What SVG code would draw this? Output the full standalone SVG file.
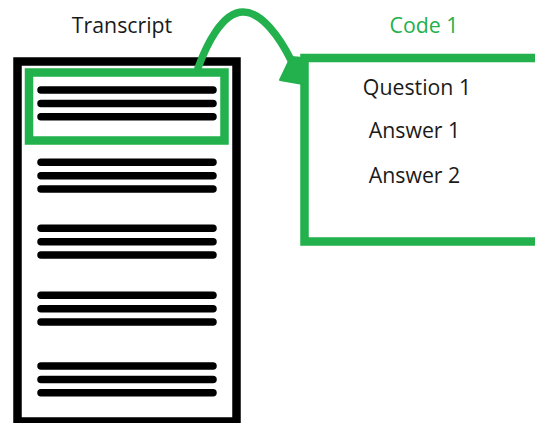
<svg xmlns="http://www.w3.org/2000/svg" width="535" height="423" viewBox="0 0 535 423">
  <style>
    .lbl { font-family: "Open Sans", "Liberation Sans", sans-serif; font-size: 21.3px; fill: #1a1a1a; text-anchor: middle; }
    .green-lbl { fill: #22b14c; }
    .doc { fill: none; stroke: #000; stroke-width: 8.5; }
    .hl { fill: none; stroke: #22b14c; stroke-width: 8.5; }
    .row { stroke: #000; stroke-width: 7.5; stroke-linecap: round; }
  </style>
  <defs>
    <g id="rows">
      <line class="row" x1="41" y1="0" x2="213" y2="0"/>
      <line class="row" x1="41" y1="13.4" x2="213" y2="13.4"/>
      <line class="row" x1="41" y1="26.8" x2="213" y2="26.8"/>
    </g>
  </defs>
  <rect width="535" height="423" fill="#fff"/>

  <!-- transcript document -->
  <g id="transcript">
    <text class="lbl" x="122" y="32.7">Transcript</text>
    <rect class="doc" x="17.5" y="61.5" width="219" height="360"/>
    <use href="#rows" y="90"/>
    <use href="#rows" y="162.3"/>
    <use href="#rows" y="228.3"/>
    <use href="#rows" y="295.3"/>
    <use href="#rows" y="366"/>
  </g>

  <!-- highlighted excerpt -->
  <g id="excerpt">
    <rect class="hl" x="29" y="72.5" width="195.5" height="68"/>
  </g>

  <!-- code box -->
  <g id="code1">
    <text class="lbl green-lbl" x="424" y="32.5">Code 1</text>
    <rect class="hl" x="304.5" y="58" width="250" height="183.5"/>
    <text class="lbl" x="417" y="95">Question 1</text>
    <text class="lbl" x="414.5" y="138">Answer 1</text>
    <text class="lbl" x="414.5" y="182.5">Answer 2</text>
  </g>

  <!-- connector -->
  <g id="connectors">
    <path d="M198,68 C206,46 222,12 243,12 C262,12 280,38 291,60" fill="none" stroke="#22b14c" stroke-width="7.5" stroke-linecap="round"/>
    <polygon points="280,80 291,57 303,58 303,84" fill="#22b14c" stroke="#22b14c" stroke-width="2" stroke-linejoin="round"/>
  </g>
</svg>
